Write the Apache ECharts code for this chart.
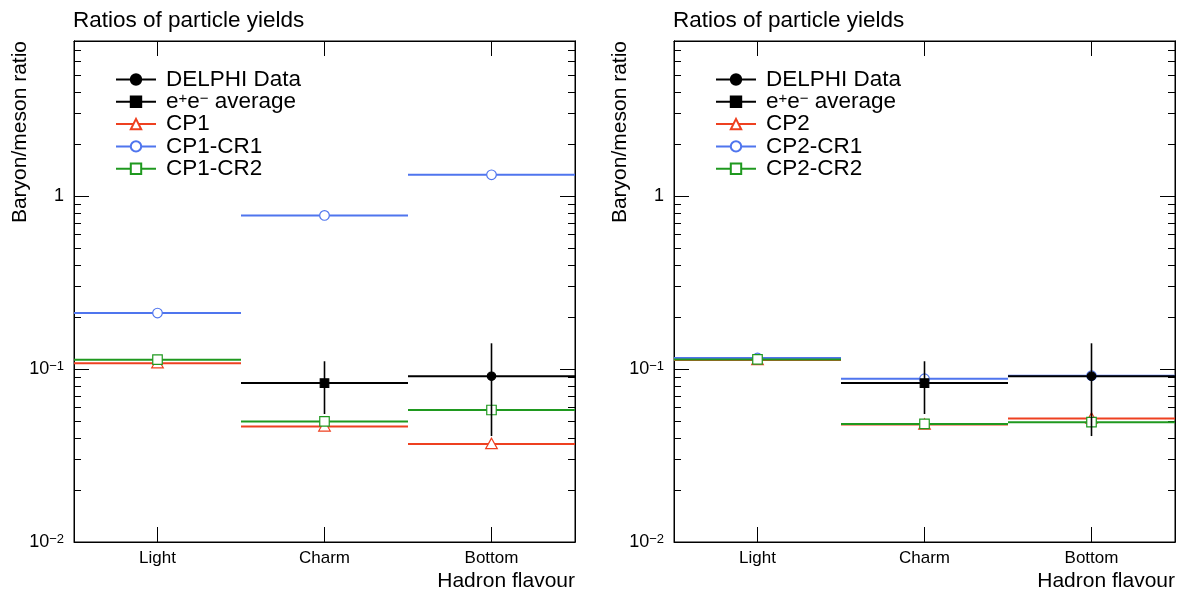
<!DOCTYPE html>
<html><head><meta charset="utf-8">
<script src="https://cdn.jsdelivr.net/npm/echarts@6/dist/echarts.min.js"></script>
<style>html,body{margin:0;padding:0;background:#fff}#c{width:1182px;height:596px}</style>
</head><body><div id="c"></div>
<script>
// ---------- data ----------
const categories = ['Light', 'Charm', 'Bottom'];
const delphiData = [null, null, 0.091];
const delphiErr = [null, null, 0.05];
const eeAverage = [null, 0.083, null];
const eeErr = [null, 0.028, null];
const cp1 = [0.108, 0.0466, 0.0369];
const cp1cr1 = [0.211, 0.774, 1.33];
const cp1cr2 = [0.1133, 0.0498, 0.058];
const cp2 = [0.113, 0.0478, 0.0518];
const cp2cr1 = [0.116, 0.088, 0.0915];
const cp2cr2 = [0.1138, 0.0482, 0.0493];
const yMajorTicks = [0.01, 0.1, 1];
const yMinorTicks = [0.02, 0.03, 0.04, 0.05, 0.06, 0.07, 0.08, 0.09,
                     0.2, 0.3, 0.4, 0.5, 0.6, 0.7, 0.8, 0.9,
                     2, 3, 4, 5, 6, 7];
const panelTitle = 'Ratios of particle yields';
const yName = 'Baryon/meson ratio';
const xName = 'Hadron flavour';

// ---------- styles ----------
const FONT = '"Liberation Sans", Arial, Helvetica, sans-serif';
const RED = '#ee4020', BLUE = '#4f75ee', GREEN = '#1f991f', BLACK = '#000';
const grids = [{left: 74, top: 41, width: 501, height: 501}, {left: 674, top: 41, width: 501, height: 501}];

function buildData(vals, errs) {
  const out = [];
  vals.forEach((v, i) => { if (v != null) out.push(errs ? [i, v, errs[i]] : [i, v]); });
  return out;
}

function makeRender(color, marker, filled) {
  return function (params, api) {
    const i = api.value(0), v = api.value(1);
    const p = api.coord([i, v]);
    const w = api.size([1, v])[0];
    const ch = [{type: 'line', shape: {x1: p[0] - w / 2, y1: p[1], x2: p[0] + w / 2, y2: p[1]},
                 style: {stroke: color, lineWidth: 2}}];
    const e = api.value(2);
    if (isFinite(e) && e > 0) {
      const hi = api.coord([i, v + e]), lo = api.coord([i, v - e]);
      ch.push({type: 'line', shape: {x1: p[0], y1: hi[1], x2: p[0], y2: lo[1]}, style: {stroke: color, lineWidth: 1.6}});
    }
    const fill = filled ? color : '#fff';
    const st = {fill: fill, stroke: color, lineWidth: 1.2};
    if (marker === 'circle') {
      ch.push({type: 'circle', shape: {cx: p[0], cy: p[1], r: filled ? 4.2 : 4.8}, style: st});
    } else if (marker === 'rect') {
      const s = filled ? 8.5 : 9.5;
      ch.push({type: 'rect', shape: {x: p[0] - s / 2, y: p[1] - s / 2, width: s, height: s}, style: st});
    } else if (marker === 'triangle') {
      const s = 5.8;
      ch.push({type: 'polygon', shape: {points: [[p[0], p[1] - s], [p[0] - s, p[1] + s * 0.8], [p[0] + s, p[1] + s * 0.8]]}, style: st});
    }
    return {type: 'group', children: ch};
  };
}

const panels = [
  {models: [['CP1', cp1, RED, 'triangle'], ['CP1-CR1', cp1cr1, BLUE, 'circle'], ['CP1-CR2', cp1cr2, GREEN, 'rect']]},
  {models: [['CP2', cp2, RED, 'triangle'], ['CP2-CR1', cp2cr1, BLUE, 'circle'], ['CP2-CR2', cp2cr2, GREEN, 'rect']]}
];

const xAxis = [], yAxis = [], series = [], legend = [], title = [], graphic = [];
const axLine = {show: true, lineStyle: {color: BLACK, width: 1}};
const tickStyle = {color: BLACK, width: 1};

function yFmt(v) {
  const n = Math.round(Math.log10(v));
  return n === 0 ? '{b|1}' : '{b|10}{s|−' + (-n) + '}';
}

panels.forEach((pn, g) => {
  xAxis.push({type: 'category', data: categories, gridIndex: g, position: 'bottom', boundaryGap: true,
    axisLine: axLine, axisTick: {show: true, inside: true, length: 15, alignWithLabel: true, lineStyle: tickStyle},
    axisLabel: {fontSize: 17, color: BLACK, fontFamily: FONT, margin: 8}, splitLine: {show: false}});
  xAxis.push({type: 'category', data: categories, gridIndex: g, position: 'top', boundaryGap: true,
    axisLine: axLine, axisTick: {show: true, inside: true, length: 15, alignWithLabel: true, lineStyle: tickStyle},
    axisLabel: {show: false}, splitLine: {show: false}});
  const base = {type: 'log', logBase: 10, min: 0.01, max: 7.9, gridIndex: g, axisLine: axLine,
    splitLine: {show: false}, minorTick: {show: false}};
  yAxis.push(Object.assign({}, base, {position: 'left',
    axisTick: {show: true, inside: true, length: 15, customValues: yMajorTicks, lineStyle: tickStyle},
    axisLabel: {show: true, customValues: yMajorTicks, formatter: yFmt, margin: 10, color: BLACK,
      rich: {b: {fontSize: 18, fontFamily: FONT, color: BLACK}, s: {fontSize: 13, lineHeight: 12, fontFamily: FONT, color: BLACK, verticalAlign: 'top'}}}}));
  yAxis.push(Object.assign({}, base, {position: 'left',
    axisTick: {show: true, inside: true, length: 7, customValues: yMinorTicks, lineStyle: tickStyle}, axisLabel: {show: false}}));
  yAxis.push(Object.assign({}, base, {position: 'right',
    axisTick: {show: true, inside: true, length: 15, customValues: yMajorTicks, lineStyle: tickStyle}, axisLabel: {show: false}}));
  yAxis.push(Object.assign({}, base, {position: 'right',
    axisTick: {show: true, inside: true, length: 7, customValues: yMinorTicks, lineStyle: tickStyle}, axisLabel: {show: false}}));

  const xi = 2 * g, yi = 4 * g;
  const legendEntries = [['DELPHI Data', BLACK, 'circle', true], ['e+e- average', BLACK, 'rect', true]]
    .concat(pn.models.map(m => [m[0], m[2], m[3], false]));
  legendEntries.forEach(le => {
    series.push({type: 'line', name: le[0], data: [], xAxisIndex: xi, yAxisIndex: yi, symbol: le[2],
      itemStyle: {color: le[3] ? le[1] : '#fff', borderColor: le[1], borderWidth: 1.3},
      lineStyle: {color: le[1], width: 2}});
  });
  pn.models.forEach(m => {
    series.push({type: 'custom', name: m[0], xAxisIndex: xi, yAxisIndex: yi, data: buildData(m[1]),
      renderItem: makeRender(m[2], m[3], false), z: 3});
  });
  series.push({type: 'custom', name: 'e+e- average', xAxisIndex: xi, yAxisIndex: yi, data: buildData(eeAverage, eeErr),
    renderItem: makeRender(BLACK, 'rect', true), z: 4});
  series.push({type: 'custom', name: 'DELPHI Data', xAxisIndex: xi, yAxisIndex: yi, data: buildData(delphiData, delphiErr),
    renderItem: makeRender(BLACK, 'circle', true), z: 4});

  legend.push({orient: 'vertical', left: grids[g].left + 41, top: 68, padding: 0, itemGap: -0.7,
    itemWidth: 40, itemHeight: 13, data: legendEntries.map(le => le[0]), selectedMode: false,
    formatter: name => name === 'e+e- average' ? 'e{s|+}e{s|−} average' : name,
    textStyle: {fontSize: 22.5, lineHeight: 21, color: BLACK, fontFamily: FONT, padding: [0, 0, 0, 5],
      rich: {s: {fontSize: 15, lineHeight: 11, color: BLACK, fontFamily: FONT, verticalAlign: 'top'}}}});

  title.push({text: panelTitle, left: grids[g].left - 1, top: 9, padding: 0,
    textStyle: {fontSize: 22.5, fontWeight: 'normal', color: BLACK, fontFamily: FONT}});

  graphic.push({type: 'text', x: grids[g].left - 54, y: 41, rotation: Math.PI / 2,
    style: {text: yName, fontSize: 21, fontFamily: FONT, fill: BLACK, align: 'right', verticalAlign: 'middle'}});
  graphic.push({type: 'text', x: grids[g].left + 501, y: 581,
    style: {text: xName, fontSize: 21, fontFamily: FONT, fill: BLACK, align: 'right', verticalAlign: 'middle'}});
});

const chart = echarts.init(document.getElementById('c'), null, {renderer: 'canvas'});
chart.setOption({
  animation: false,
  backgroundColor: '#fff',
  title: title,
  legend: legend,
  grid: grids.map(gr => Object.assign({show: true, borderColor: BLACK, borderWidth: 1, backgroundColor: 'transparent', containLabel: false}, gr)),
  xAxis: xAxis,
  yAxis: yAxis,
  series: series,
  graphic: graphic
});
</script></body></html>
